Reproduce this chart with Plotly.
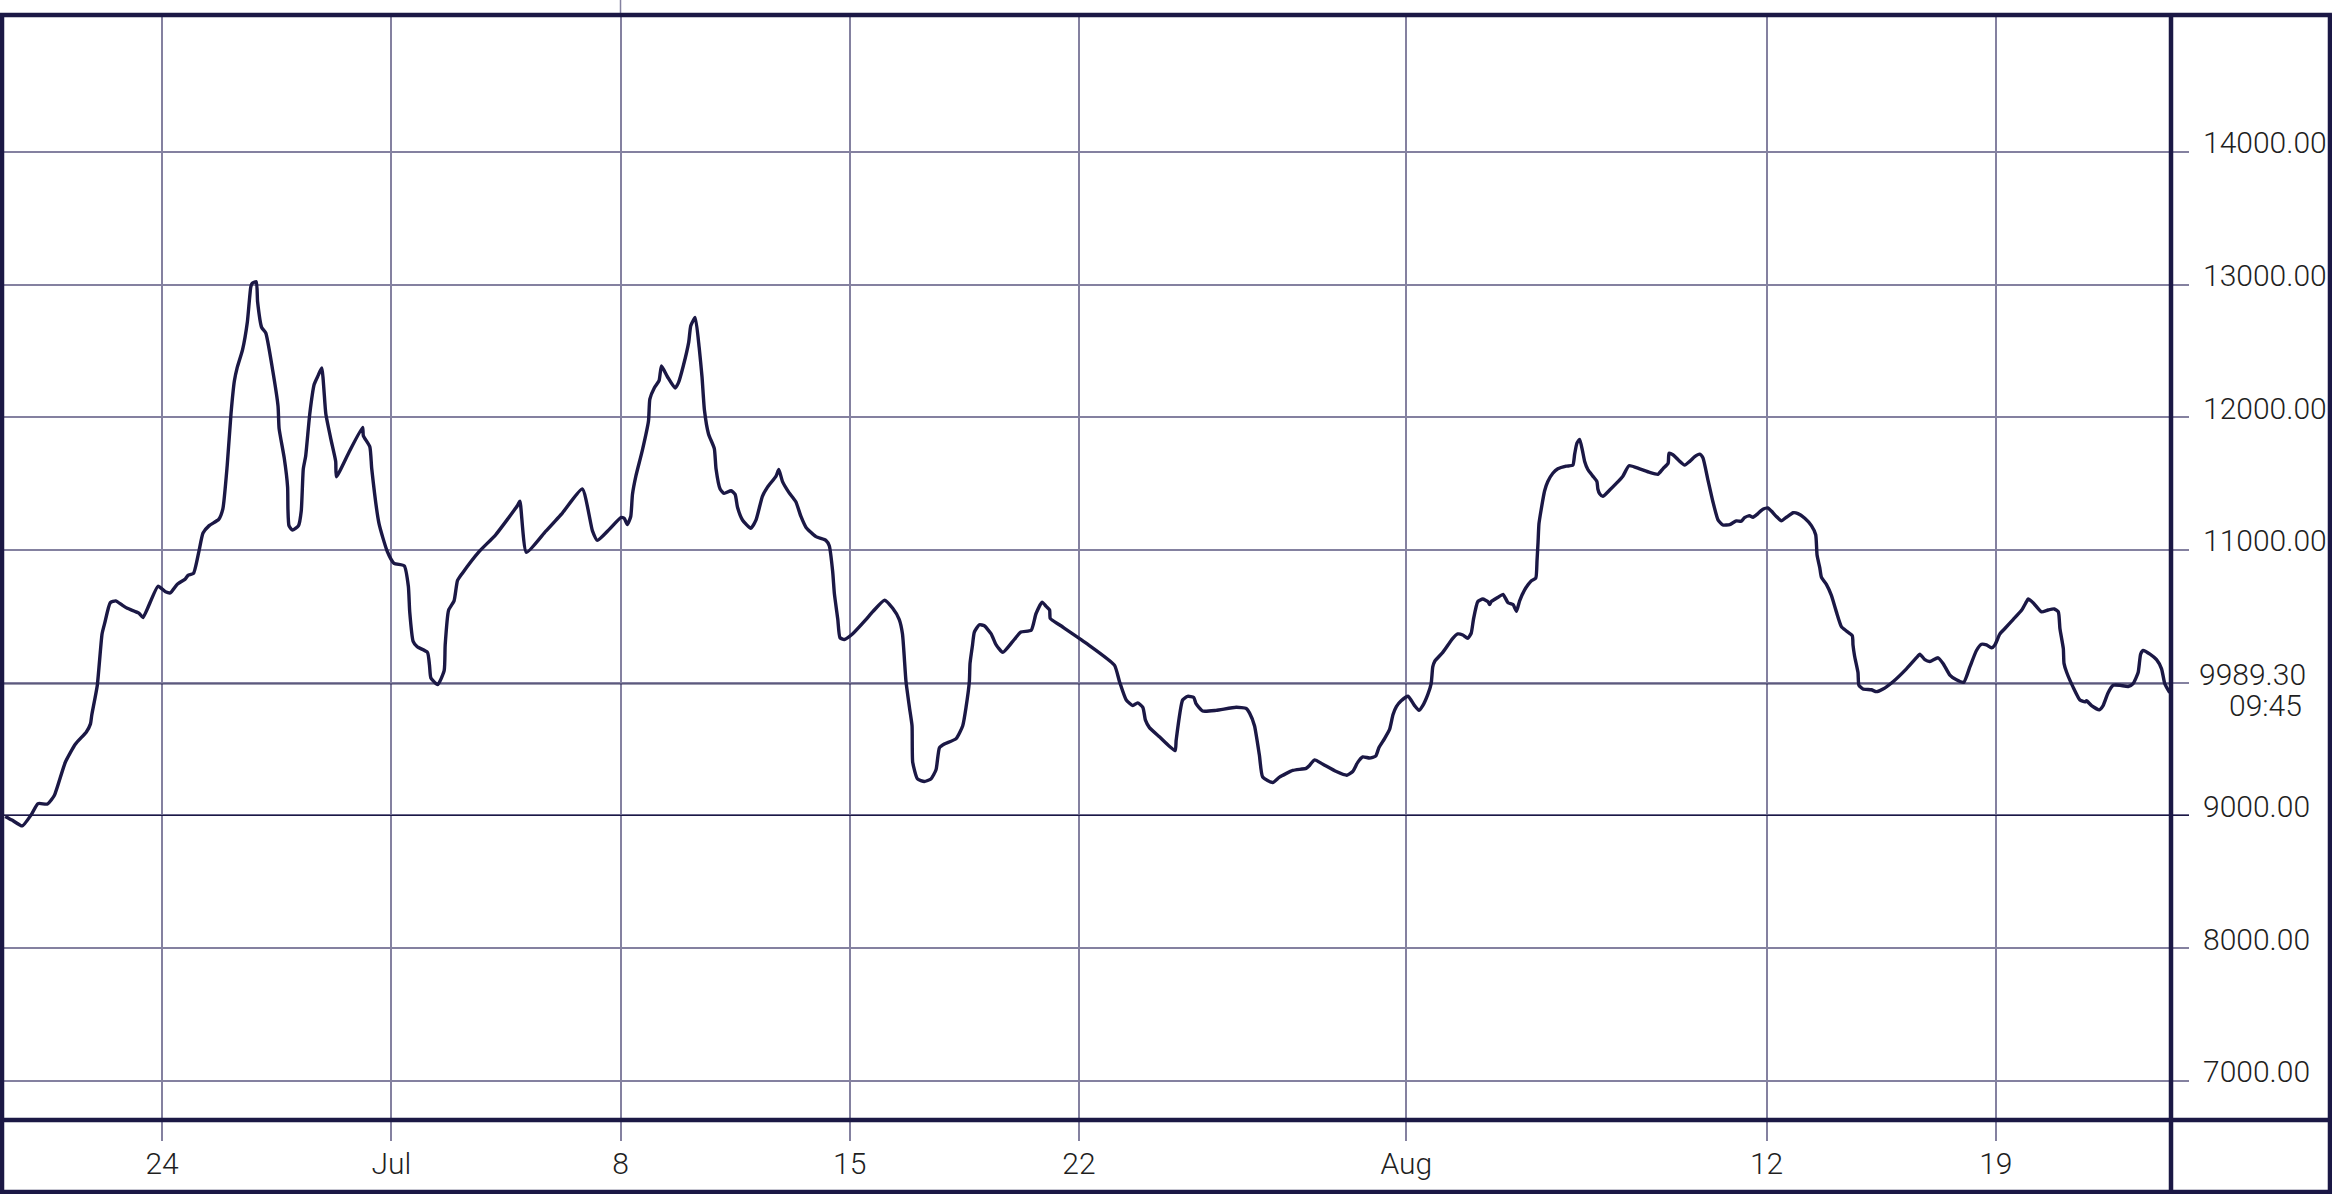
import plotly.graph_objects as go

# ---------------- data ----------------
times = [
    "2019-06-19 05:00", "2019-06-19 10:00", "2019-06-19 17:30", "2019-06-20 00:00", "2019-06-20 05:00",
    "2019-06-20 12:00", "2019-06-20 17:00", "2019-06-21 01:00", "2019-06-21 08:30", "2019-06-21 16:30",
    "2019-06-21 19:30", "2019-06-21 20:30", "2019-06-22 00:30", "2019-06-22 04:00", "2019-06-22 06:00",
    "2019-06-22 10:00", "2019-06-22 14:00", "2019-06-22 19:00", "2019-06-22 22:30", "2019-06-23 07:00",
    "2019-06-23 10:00", "2019-06-23 21:00", "2019-06-24 02:30", "2019-06-24 06:00", "2019-06-24 11:00",
    "2019-06-24 17:00", "2019-06-24 19:00", "2019-06-24 23:00", "2019-06-25 03:00", "2019-06-25 06:00",
    "2019-06-25 10:30", "2019-06-25 17:30", "2019-06-25 20:30", "2019-06-25 23:45", "2019-06-26 02:30",
    "2019-06-26 05:00", "2019-06-26 07:00", "2019-06-26 11:00", "2019-06-26 14:30", "2019-06-26 17:00",
    "2019-06-26 18:00", "2019-06-26 21:00", "2019-06-26 22:00", "2019-06-27 01:00", "2019-06-27 04:00",
    "2019-06-27 09:00", "2019-06-27 13:00", "2019-06-27 13:45", "2019-06-27 17:30", "2019-06-27 20:00",
    "2019-06-27 20:15", "2019-06-27 21:00", "2019-06-27 23:30", "2019-06-28 04:00", "2019-06-28 06:00",
    "2019-06-28 07:30", "2019-06-28 09:15", "2019-06-28 12:15", "2019-06-28 15:30", "2019-06-28 18:30",
    "2019-06-28 21:00", "2019-06-29 00:00", "2019-06-29 03:45", "2019-06-29 07:15", "2019-06-29 07:45",
    "2019-06-29 17:00", "2019-06-30 03:00", "2019-06-30 03:30", "2019-06-30 08:15", "2019-06-30 09:40",
    "2019-06-30 15:00", "2019-06-30 21:00", "2019-07-01 02:00", "2019-07-01 09:30", "2019-07-01 12:30",
    "2019-07-01 13:30", "2019-07-01 16:00", "2019-07-01 19:00", "2019-07-02 02:30", "2019-07-02 04:00",
    "2019-07-02 05:00", "2019-07-02 10:00", "2019-07-02 14:45", "2019-07-02 15:30", "2019-07-02 18:00",
    "2019-07-02 22:00", "2019-07-03 00:30", "2019-07-03 04:00", "2019-07-03 16:30", "2019-07-04 04:30",
    "2019-07-04 20:30", "2019-07-04 22:15", "2019-07-05 03:00", "2019-07-05 17:15", "2019-07-06 05:30",
    "2019-07-06 20:00", "2019-07-07 03:30", "2019-07-07 07:00", "2019-07-07 15:45", "2019-07-08 00:15",
    "2019-07-08 02:45", "2019-07-08 05:00", "2019-07-08 07:30", "2019-07-08 08:45", "2019-07-08 11:15",
    "2019-07-08 16:00", "2019-07-08 20:30", "2019-07-08 21:30", "2019-07-09 00:45", "2019-07-09 04:15",
    "2019-07-09 06:00", "2019-07-09 10:30", "2019-07-09 16:00", "2019-07-09 18:30", "2019-07-09 22:00",
    "2019-07-10 02:00", "2019-07-10 03:30", "2019-07-10 06:45", "2019-07-10 09:40", "2019-07-10 11:45",
    "2019-07-10 13:30", "2019-07-10 16:30", "2019-07-10 20:45", "2019-07-10 22:00", "2019-07-11 01:00",
    "2019-07-11 04:00", "2019-07-11 09:00", "2019-07-11 12:00", "2019-07-11 13:45", "2019-07-11 17:30",
    "2019-07-11 23:30", "2019-07-12 03:15", "2019-07-12 08:00", "2019-07-12 11:45", "2019-07-12 18:00",
    "2019-07-12 20:00", "2019-07-12 22:45", "2019-07-13 03:30", "2019-07-13 08:30", "2019-07-13 12:15",
    "2019-07-13 16:00", "2019-07-13 23:15", "2019-07-14 06:30", "2019-07-14 09:00", "2019-07-14 11:30",
    "2019-07-14 12:45", "2019-07-14 15:15", "2019-07-14 16:50", "2019-07-14 20:00", "2019-07-15 02:00",
    "2019-07-15 12:00", "2019-07-15 16:45", "2019-07-16 01:30", "2019-07-16 07:30", "2019-07-16 12:15",
    "2019-07-16 14:40", "2019-07-16 17:15", "2019-07-16 19:45", "2019-07-16 21:40", "2019-07-16 22:10",
    "2019-07-17 01:40", "2019-07-17 06:40", "2019-07-17 11:30", "2019-07-17 15:15", "2019-07-17 17:45",
    "2019-07-17 21:20", "2019-07-18 06:00", "2019-07-18 10:50", "2019-07-18 13:15", "2019-07-18 15:40",
    "2019-07-18 16:10", "2019-07-18 18:00", "2019-07-18 19:20", "2019-07-18 23:00", "2019-07-19 02:40",
    "2019-07-19 07:40", "2019-07-19 11:20", "2019-07-19 16:10", "2019-07-19 23:30", "2019-07-20 05:30",
    "2019-07-20 13:00", "2019-07-20 16:30", "2019-07-20 21:00", "2019-07-21 00:00", "2019-07-21 02:30",
    "2019-07-21 03:00", "2019-07-21 09:40", "2019-07-22 05:15", "2019-07-23 02:00", "2019-07-23 05:45",
    "2019-07-23 10:40", "2019-07-23 15:30", "2019-07-23 19:00", "2019-07-23 22:50", "2019-07-24 00:45",
    "2019-07-24 03:40", "2019-07-24 11:00", "2019-07-24 22:30", "2019-07-24 23:15", "2019-07-25 04:00",
    "2019-07-25 07:40", "2019-07-25 12:10", "2019-07-25 13:50", "2019-07-25 18:40", "2019-07-26 04:30",
    "2019-07-26 19:15", "2019-07-27 02:40", "2019-07-27 05:00", "2019-07-27 08:40", "2019-07-27 12:15",
    "2019-07-27 14:40", "2019-07-27 22:00", "2019-07-28 03:00", "2019-07-28 12:45", "2019-07-28 22:30",
    "2019-07-29 01:00", "2019-07-29 04:40", "2019-07-29 10:50", "2019-07-29 20:40", "2019-07-30 04:20",
    "2019-07-30 08:40", "2019-07-30 12:20", "2019-07-30 16:00", "2019-07-30 21:00", "2019-07-31 01:30",
    "2019-07-31 03:50", "2019-07-31 08:00", "2019-07-31 11:40", "2019-07-31 14:10", "2019-07-31 16:40",
    "2019-07-31 20:10", "2019-08-01 01:10", "2019-08-01 06:00", "2019-08-01 09:10", "2019-08-01 12:00",
    "2019-08-01 15:40", "2019-08-01 18:10", "2019-08-01 19:20", "2019-08-01 20:40", "2019-08-02 02:40",
    "2019-08-02 10:00", "2019-08-02 13:40", "2019-08-02 17:20", "2019-08-02 21:00", "2019-08-02 23:30",
    "2019-08-03 01:10", "2019-08-03 04:20", "2019-08-03 08:00", "2019-08-03 11:50", "2019-08-03 13:00",
    "2019-08-03 14:10", "2019-08-03 19:10", "2019-08-03 22:50", "2019-08-04 02:30", "2019-08-04 06:10",
    "2019-08-04 08:40", "2019-08-04 11:00", "2019-08-04 14:40", "2019-08-04 19:40", "2019-08-04 22:50",
    "2019-08-04 23:45", "2019-08-05 00:30", "2019-08-05 01:10", "2019-08-05 02:50", "2019-08-05 05:20",
    "2019-08-05 07:40", "2019-08-05 11:20", "2019-08-05 15:00", "2019-08-05 21:10", "2019-08-06 02:00",
    "2019-08-06 03:20", "2019-08-06 05:00", "2019-08-06 07:00", "2019-08-06 09:00", "2019-08-06 10:40",
    "2019-08-06 13:00", "2019-08-06 16:40", "2019-08-06 19:40", "2019-08-06 20:20", "2019-08-06 21:40",
    "2019-08-07 00:00", "2019-08-07 05:00", "2019-08-07 09:50", "2019-08-07 14:40", "2019-08-07 19:10",
    "2019-08-08 03:00", "2019-08-08 10:20", "2019-08-08 16:20", "2019-08-08 20:00", "2019-08-08 23:50",
    "2019-08-09 00:30", "2019-08-09 03:20", "2019-08-09 07:00", "2019-08-09 12:00", "2019-08-09 15:40",
    "2019-08-09 19:20", "2019-08-09 23:00", "2019-08-10 01:20", "2019-08-10 05:00", "2019-08-10 08:40",
    "2019-08-10 12:30", "2019-08-10 16:00", "2019-08-10 21:00", "2019-08-11 01:50", "2019-08-11 05:30",
    "2019-08-11 07:50", "2019-08-11 11:30", "2019-08-11 14:00", "2019-08-11 17:40", "2019-08-11 21:20",
    "2019-08-12 01:00", "2019-08-12 03:30", "2019-08-12 07:10", "2019-08-12 10:50", "2019-08-12 14:30",
    "2019-08-12 19:30", "2019-08-12 23:00", "2019-08-13 04:00", "2019-08-13 08:50", "2019-08-13 12:00",
    "2019-08-13 13:00", "2019-08-13 15:00", "2019-08-13 16:10", "2019-08-13 19:50", "2019-08-13 23:30",
    "2019-08-14 03:10", "2019-08-14 06:50", "2019-08-14 10:30", "2019-08-14 14:50", "2019-08-14 15:20",
    "2019-08-14 16:30", "2019-08-14 19:00", "2019-08-14 19:40", "2019-08-14 22:40", "2019-08-15 04:50",
    "2019-08-15 08:30", "2019-08-15 13:20", "2019-08-15 20:40", "2019-08-16 06:30", "2019-08-16 15:00",
    "2019-08-16 16:20", "2019-08-16 20:00", "2019-08-16 23:40", "2019-08-17 05:40", "2019-08-17 09:20",
    "2019-08-17 14:20", "2019-08-17 19:10", "2019-08-18 00:30", "2019-08-18 05:00", "2019-08-18 09:50",
    "2019-08-18 13:30", "2019-08-18 17:10", "2019-08-18 20:50", "2019-08-18 23:20", "2019-08-19 03:00",
    "2019-08-19 06:40", "2019-08-19 12:50", "2019-08-19 19:00", "2019-08-19 22:30", "2019-08-19 23:45",
    "2019-08-20 03:20", "2019-08-20 09:30", "2019-08-20 14:20", "2019-08-20 18:50", "2019-08-20 21:50",
    "2019-08-20 23:00", "2019-08-21 01:30", "2019-08-21 02:00", "2019-08-21 04:00", "2019-08-21 08:40",
    "2019-08-21 13:40", "2019-08-21 17:20", "2019-08-21 18:30", "2019-08-21 22:10", "2019-08-22 03:50",
    "2019-08-22 06:40", "2019-08-22 10:20", "2019-08-22 14:00", "2019-08-22 19:00", "2019-08-23 01:00",
    "2019-08-23 04:40", "2019-08-23 08:20", "2019-08-23 10:10", "2019-08-23 12:00", "2019-08-23 17:00",
    "2019-08-23 21:50", "2019-08-24 01:30", "2019-08-24 03:50", "2019-08-24 07:30",
]

prices = [
    8992, 8964, 8920, 9003, 9088, 9085, 9149, 9398, 9537, 9628,
    9689, 9758, 9979, 10367, 10450, 10602, 10616, 10582, 10560, 10524,
    10491, 10726, 10685, 10676, 10740, 10781, 10809, 10823, 10989, 11127,
    11183, 11230, 11307, 11639, 12026, 12275, 12372, 12510, 12718, 12981,
    13008, 13022, 12870, 12676, 12635, 12358, 12082, 11916, 11694, 11473,
    11307, 11183, 11149, 11183, 11293, 11611, 11708, 12026, 12248, 12317,
    12372, 12026, 11833, 11667, 11551, 11736, 11924, 11861, 11778, 11612,
    11198, 10990, 10899, 10880, 10726, 10533, 10311, 10270, 10228, 10131,
    10035, 9985, 10090, 10284, 10546, 10616, 10768, 10823, 10989, 11114,
    11335, 11368, 10981, 11141, 11280, 11459, 11141, 11072, 11155, 11244,
    11238, 11191, 11252, 11418, 11556, 11750, 11971, 12137, 12220, 12275,
    12386, 12303, 12220, 12261, 12386, 12566, 12690, 12751, 12524, 12303,
    12054, 11874, 11764, 11611, 11459, 11426, 11446, 11418, 11321, 11224,
    11163, 11224, 11404, 11473, 11556, 11606, 11515, 11432, 11363, 11252,
    11169, 11100, 11072, 11031, 10837, 10671, 10477, 10339, 10325, 10367,
    10477, 10533, 10621, 10560, 10477, 10367, 10007, 9814, 9675, 9399,
    9274, 9255, 9274, 9343, 9509, 9537, 9578, 9675, 9814, 10007,
    10145, 10284, 10381, 10436, 10428, 10367, 10284, 10228, 10311, 10381,
    10394, 10519, 10607, 10574, 10547, 10483, 10436, 10298, 10132, 10007,
    9869, 9827, 9847, 9814, 9717, 9661, 9592, 9487, 9565, 9869,
    9897, 9888, 9841, 9786, 9791, 9814, 9805, 9772, 9675, 9454,
    9288, 9247, 9288, 9338, 9354, 9376, 9418, 9385, 9330, 9302,
    9330, 9399, 9440, 9432, 9446, 9509, 9578, 9647, 9758, 9819,
    9863, 9897, 9827, 9791, 9827, 9910, 9993, 10118, 10159, 10228,
    10334, 10367, 10359, 10334, 10372, 10477, 10610, 10630, 10610, 10588,
    10610, 10643, 10665, 10602, 10588, 10538, 10616, 10699, 10768, 10787,
    10920, 11058, 11197, 11307, 11446, 11515, 11578, 11611, 11631, 11639,
    11722, 11805, 11833, 11750, 11667, 11606, 11556, 11515, 11459, 11423,
    11404, 11451, 11501, 11556, 11634, 11611, 11584, 11570, 11611, 11653,
    11728, 11717, 11681, 11639, 11667, 11703, 11722, 11694, 11528, 11363,
    11224, 11188, 11191, 11219, 11216, 11244, 11257, 11246, 11274, 11307,
    11316, 11293, 11252, 11219, 11246, 11280, 11274, 11238, 11183, 11114,
    10961, 10865, 10795, 10740, 10657, 10533, 10422, 10389, 10353, 10284,
    10201, 10076, 9980, 9952, 9946, 9932, 9952, 10007, 10104, 10201,
    10215, 10173, 10159, 10187, 10145, 10057, 10021, 10002, 10118, 10242,
    10289, 10284, 10262, 10284, 10367, 10408, 10477, 10547, 10610, 10630,
    10602, 10533, 10547, 10555, 10533, 10408, 10256, 10145, 10076, 9966,
    9869, 9855, 9863, 9827, 9795, 9827, 9924, 9980, 9980, 9971,
    9993, 10076, 10215, 10242, 10215, 10173, 10104, 9993, 9924,
]

y_tick_values = [7000, 8000, 9000, 10000, 11000, 12000, 13000, 14000]
y_tick_labels = ["7000.00", "8000.00", "9000.00", "", "11000.00", "12000.00", "13000.00", "14000.00"]
x_tick_values = ["2019-06-24", "2019-07-01", "2019-07-08", "2019-07-15",
                 "2019-07-22", "2019-08-01", "2019-08-12", "2019-08-19"]
x_tick_labels = ["24", "Jul", "8", "15", "22", "Aug", "12", "19"]
last_price = 9989.30
last_time = "09:45"
reference_level = 9000
x_range = ["2019-06-19 02:40", "2019-08-24 08:25"]
y_range = [6704, 15031]

# ---------------- styling ----------------
NAVY = "#1b1845"
GRID = "#8481a0"
TEXT = "#1f1f1f"
FONT = "Roboto"

fig = go.Figure()
fig.add_trace(go.Scatter(
    x=times, y=prices, mode="lines",
    line=dict(color=NAVY, width=3.4, shape="spline", smoothing=0.5),
    hoverinfo="skip",
))

fig.update_layout(
    width=2332, height=1194,
    margin=dict(l=2, r=161, t=15, b=74),
    paper_bgcolor="white", plot_bgcolor="white",
    showlegend=False,
    font=dict(family=FONT, color=TEXT, size=30),
    xaxis=dict(
        type="date", range=x_range,
        tickmode="array", tickvals=x_tick_values, ticktext=x_tick_labels,
        showgrid=True, gridcolor=GRID, gridwidth=1.5,
        ticks="outside", ticklen=20, tickwidth=1.5, tickcolor=GRID,
        ticklabelstandoff=-3,
        tickfont=dict(family=FONT, size=30, color=TEXT, weight=300),
        showline=False, zeroline=False, fixedrange=True,
    ),
    yaxis=dict(
        side="right", range=y_range,
        tickmode="array", tickvals=y_tick_values, ticktext=y_tick_labels,
        showgrid=True, gridcolor=GRID, gridwidth=1.5,
        ticks="outside", ticklen=17, tickwidth=1.5, tickcolor=GRID,
        ticklabelstandoff=8, ticklabelshift=-9,
        tickfont=dict(family=FONT, size=30, color=TEXT, weight=300),
        showline=False, zeroline=False, fixedrange=True,
    ),
)

shapes = []
# reference level and last-price lines (thin navy)
shapes.append(dict(type="line", xref="paper", yref="y", x0=0, x1=1.0083,
                   y0=reference_level, y1=reference_level,
                   line=dict(color=NAVY, width=1.2), layer="above"))
shapes.append(dict(type="line", xref="paper", yref="y", x0=0, x1=1,
                   y0=last_price, y1=last_price,
                   line=dict(color=NAVY, width=0.8), layer="above"))
# small gridline overshoot above the frame at the "8" tick
shapes.append(dict(type="line", xref="x", yref="paper", x0=x_tick_values[2], x1=x_tick_values[2],
                   y0=1, y1=1.0136, line=dict(color=GRID, width=1.5)))
# frame
frame = dict(color=NAVY, width=4.5)
shapes += [
    dict(type="line", xref="paper", yref="paper", x0=-0.001, x1=1.0742, y0=1, y1=1, line=frame),
    dict(type="line", xref="paper", yref="paper", x0=-0.001, x1=1.0742, y0=0, y1=0, line=frame),
    dict(type="line", xref="paper", yref="paper", x0=-0.001, x1=1.0742, y0=-0.0652, y1=-0.0652, line=frame),
    dict(type="line", xref="paper", yref="paper", x0=0, x1=0, y0=-0.067, y1=1.001, line=frame),
    dict(type="line", xref="paper", yref="paper", x0=1, x1=1, y0=-0.067, y1=1.001, line=frame),
    dict(type="line", xref="paper", yref="paper", x0=1.0733, x1=1.0733, y0=-0.067, y1=1.001, line=frame),
]
fig.update_layout(shapes=shapes)

fig.add_annotation(x=1.0632, y=0.4036, xref="paper", yref="paper",
                   text=f"{last_price:.2f}", showarrow=False,
                   xanchor="right", yanchor="middle",
                   font=dict(family=FONT, size=30, color=TEXT, weight=300))
fig.add_annotation(x=1.0613, y=0.3747, xref="paper", yref="paper",
                   text=last_time, showarrow=False,
                   xanchor="right", yanchor="middle",
                   font=dict(family=FONT, size=30, color=TEXT, weight=300))

fig.write_html(
    "out.html",
    config={"displayModeBar": False},
    post_script="document.body.style.margin='0';document.body.style.padding='0';"
                "document.body.style.overflow='hidden';",
)
